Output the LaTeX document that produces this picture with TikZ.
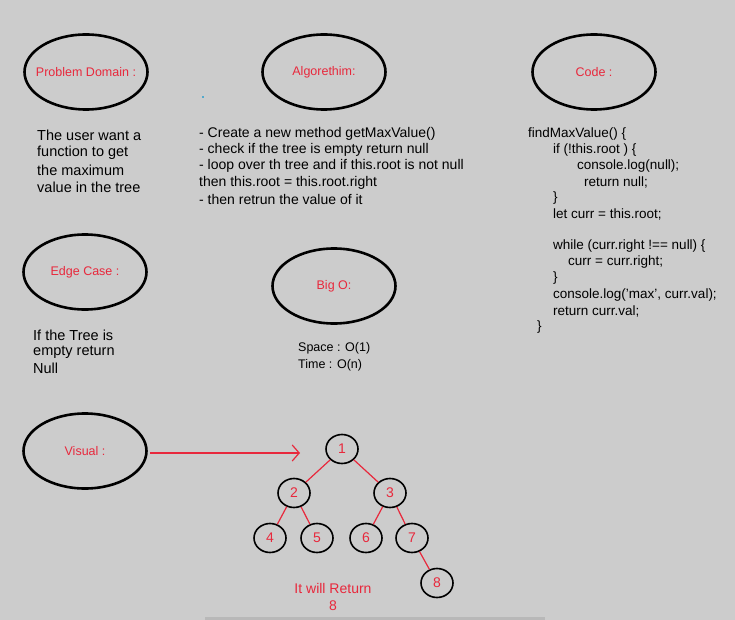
\documentclass[tikz,border=0pt]{standalone}
\usepackage{fontspec}
\setmainfont{Liberation Sans}
\usetikzlibrary{shapes.geometric,arrows.meta}
\definecolor{bg}{HTML}{CCCCCC}
\definecolor{ink}{HTML}{E8283C}
\tikzset{
  bubble/.style={ellipse, draw=black, line width=2.6pt, minimum width=123pt, minimum height=75pt, inner sep=0pt},
  bublabel/.style={text=ink, font=\fontsize{12.5}{14}\selectfont, inner sep=0pt},
  body/.style={anchor=west, inner sep=0pt, font=\fontsize{14.5}{16}\selectfont, text=black},
  algline/.style={anchor=west, inner sep=0pt, font=\fontsize{14}{16}\selectfont, text=black},
  codeline/.style={anchor=west, inner sep=0pt, font=\fontsize{13.5}{16}\selectfont, text=black},
  bigline/.style={anchor=west, inner sep=0pt, font=\fontsize{12.5}{14}\selectfont, text=black},
  tnode/.style={ellipse, draw=black, line width=1.6pt, minimum width=32pt, minimum height=29pt, text=ink, font=\fontsize{14}{16}\selectfont, inner sep=0pt},
  tedge/.style={draw=ink, line width=1.2pt},
}
\begin{document}
\begin{tikzpicture}[x=1pt,y=-1pt]
\fill[bg] (0,0) rectangle (735,620);
\useasboundingbox (0,0) rectangle (735,620);
\fill[black!28] (205,617) rectangle (545,620);
\fill[cyan!60!gray] (202,96) rectangle (204,98);

% bubbles
\node[bubble, label={[bublabel]center:Problem Domain :}] (pd) at (86,72) {};
\node[bubble, label={[bublabel]center:Algorethim:}] (alg) at (324,72) {};
\node[bubble, label={[bublabel]center:Code :}] (code) at (594,72) {};
\node[bubble, label={[bublabel]center:Edge Case :}] (edge) at (85,272) {};
\node[bubble, label={[bublabel]center:Big O:}] (bigo) at (334,286) {};
\node[bubble, label={[bublabel]center:Visual :}] (vis) at (85,451) {};

% problem domain text
\node[body] (pd1) at (37,135) {The user want a};
\node[body] (pd2) at (37,153) {function to get};
\node[body] (pd3) at (37,170) {the maximum};
\node[body] (pd4) at (37,187) {value in the tree};

% algorithm text
\node[algline] (a1) at (199,134) {- Create a new method getMaxValue()};
\node[algline] (a2) at (199,150) {- check if the tree is empty return null};
\node[algline] (a3) at (199,166) {- loop over th tree and if this.root is not null};
\node[algline] (a4) at (199,183) {then this.root = this.root.right};
\node[algline] (a5) at (199,199) {- then retrun the value of it};

% code
\node[codeline] (c1) at (528,134) {findMaxValue() \{};
\node[codeline] (c2) at (553,150) {if (!this.root ) \{};
\node[codeline] (c3) at (577,166) {console.log(null);};
\node[codeline] (c4) at (584,182) {return null;};
\node[codeline] (c5) at (553,198) {\}};
\node[codeline] (c6) at (553,214) {let curr = this.root;};
\node[codeline] (c7) at (553,246) {while (curr.right !== null) \{};
\node[codeline] (c8) at (568,262) {curr = curr.right;};
\node[codeline] (c9) at (553,278) {\}};
\node[codeline] (c10) at (553,295) {console.log('max', curr.val);};
\node[codeline] (c11) at (553,311) {return curr.val;};
\node[codeline] (c12) at (537,327) {\}};

% edge case
\node[body] (e1) at (33,335) {If the Tree is};
\node[body] (e2) at (33,352) {empty return};
\node[body] (e3) at (33,368) {Null};

% big O
\node[bigline] (b1) at (298,348) {Space : O(1)};
\node[bigline] (b2) at (298,365) {Time : O(n)};

% tree
\node[tnode] (n1) at (342,449) {1};
\node[tnode] (n2) at (294,493) {2};
\node[tnode] (n3) at (390,493) {3};
\node[tnode] (n4) at (270,538) {4};
\node[tnode] (n5) at (317,538) {5};
\node[tnode] (n6) at (366,538) {6};
\node[tnode] (n7) at (412,538) {7};
\node[tnode] (n8) at (437,583) {8};
\draw[tedge] (n1) -- (n2);
\draw[tedge] (n1) -- (n3);
\draw[tedge] (n2) -- (n4);
\draw[tedge] (n2) -- (n5);
\draw[tedge] (n3) -- (n6);
\draw[tedge] (n3) -- (n7);
\draw[tedge] (n7) -- (n8);

\coordinate (arrend) at (300,453);
\draw[draw=ink, line width=1.2pt, -{Straight Barb[length=7pt, width=16pt, line width=1.2pt]}] (150,453) -- (arrend);

\node[anchor=center, inner sep=0pt, text=ink, font=\fontsize{14}{16}\selectfont, align=center] (ret) at (333,597) {It will Return\\[1pt]8};
\end{tikzpicture}
\end{document}
